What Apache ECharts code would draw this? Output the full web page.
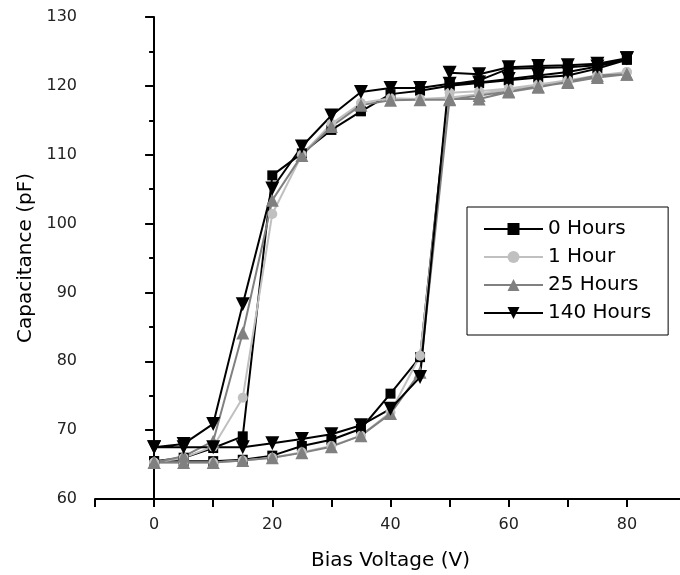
<!DOCTYPE html>
<html>
<head>
<meta charset="utf-8">
<script src="https://cdn.jsdelivr.net/npm/echarts@6/dist/echarts.min.js"></script>
<style>
  html, body { margin: 0; padding: 0; background: #fff; }
  #chart { width: 680px; height: 575px; }
</style>
</head>
<body>
<div id="chart"></div>
<script>
// bias voltage sweep points (forward 0 -> 80, then back 80 -> 0)
const voltsUp = [0, 5, 10, 15, 20, 25, 30, 35, 40, 45, 50, 55, 60, 65, 70, 75, 80];
const voltsDown = [80, 75, 70, 65, 60, 55, 50, 45, 40, 35, 30, 25, 20, 15, 10, 5, 0];

const seriesNames = ['0 Hours', '1 Hour', '25 Hours', '140 Hours'];

// capacitance (pF), forward sweep
const up0h = [65.5, 65.5, 65.5, 65.7, 66.3, 67.7, 68.6, 70.2, 75.3, 80.6, 120.2, 120.8, 122.5, 122.6, 122.7, 123.0, 123.8];
const up1h = [65.3, 65.3, 65.3, 65.6, 66.0, 66.8, 67.7, 69.2, 72.6, 80.8, 119.0, 119.2, 119.6, 120.2, 120.8, 121.5, 122.0];
const up25h = [65.3, 65.3, 65.3, 65.6, 66.0, 66.7, 67.6, 69.2, 72.4, 78.4, 118.1, 118.1, 119.1, 119.8, 120.6, 121.5, 121.7];
const up140h = [67.5, 67.5, 67.5, 67.5, 68.1, 68.7, 69.4, 70.7, 73.1, 77.7, 121.9, 121.7, 122.7, 122.9, 123.0, 123.2, 124.0];

// capacitance (pF), reverse sweep
const down0h = [123.8, 122.5, 121.5, 121.2, 120.8, 120.4, 120.0, 119.3, 118.8, 116.3, 113.6, 110.2, 107.0, 69.1, 67.4, 66.0, 65.5];
const down1h = [122.0, 121.3, 120.6, 120.0, 119.5, 118.8, 118.3, 118.1, 118.2, 117.5, 114.5, 110.0, 101.4, 74.7, 67.6, 66.0, 65.3];
const down25h = [121.7, 121.2, 120.5, 119.9, 119.2, 118.6, 118.0, 118.0, 117.9, 117.2, 114.1, 109.9, 103.4, 84.1, 68.4, 66.2, 65.3];
const down140h = [124.0, 122.8, 122.0, 121.5, 121.0, 120.5, 120.3, 119.7, 119.7, 119.1, 115.7, 111.2, 105.1, 88.3, 70.9, 68.0, 67.5];

const font = 'DejaVu Sans';

function loop(up, down) {
  return voltsUp.map((v, i) => [v, up[i]]).concat(voltsDown.map((v, i) => [v, down[i]]));
}

const looks = [
  { color: '#000000', symbol: 'rect', size: 10, rotate: 0 },
  { color: '#c0c0c0', symbol: 'circle', size: 10, rotate: 0 },
  { color: '#808080', symbol: 'triangle', size: 13, rotate: 0 },
  { color: '#000000', symbol: 'triangle', size: 14, rotate: 180 }
];
const loops = [loop(up0h, down0h), loop(up1h, down1h), loop(up25h, down25h), loop(up140h, down140h)];

const chart = echarts.init(document.getElementById('chart'));

chart.setOption({
  animation: false,
  backgroundColor: '#fff',
  grid: {
    left: 95,
    right: -6,
    top: 17,
    bottom: 76,
    containLabel: false,
    outerBoundsMode: 'none'
  },
  legend: {
    orient: 'vertical',
    left: 467,
    top: 207,
    data: seriesNames,
    itemWidth: 59,
    itemHeight: 15,
    itemGap: 4,
    padding: [10, 17, 10, 16],
    borderColor: '#000',
    borderWidth: 1,
    textStyle: { fontFamily: font, fontSize: 20, color: '#000', lineHeight: 24 }
  },
  xAxis: {
    type: 'value',
    min: -10,
    max: 90,
    interval: 10,
    name: 'Bias Voltage (V)',
    nameLocation: 'middle',
    nameGap: 52,
    nameTextStyle: { fontFamily: font, fontSize: 20, color: '#000' },
    splitLine: { show: false },
    axisLine: { show: true, lineStyle: { color: '#000', width: 2 } },
    axisTick: { show: true, length: 8, lineStyle: { color: '#000', width: 2 } },
    axisLabel: {
      margin: 18,
      fontFamily: font,
      fontSize: 16,
      color: '#222',
      showMaxLabel: false,
      formatter: function (v) {
        return (v >= 0 && v % 20 === 0 && v <= 80) ? String(v) : '';
      }
    }
  },
  yAxis: {
    type: 'value',
    min: 60,
    max: 130,
    interval: 10,
    name: 'Capacitance (pF)',
    nameLocation: 'middle',
    nameGap: 58,
    nameTextStyle: { fontFamily: font, fontSize: 20, color: '#000' },
    splitLine: { show: false },
    axisLine: { show: true, lineStyle: { color: '#000', width: 2 } },
    axisTick: { show: true, length: 9, lineStyle: { color: '#000', width: 2 } },
    minorTick: { show: true, splitNumber: 2, length: 5, lineStyle: { color: '#000', width: 2 } },
    axisLabel: { margin: 18, fontFamily: font, fontSize: 16, color: '#222' }
  },
  series: seriesNames.map((name, i) => ({
    name: name,
    type: 'line',
    data: loops[i],
    symbol: looks[i].symbol,
    symbolSize: looks[i].size,
    symbolRotate: looks[i].rotate,
    showAllSymbol: true,
    lineStyle: { color: looks[i].color, width: 2 },
    itemStyle: { color: looks[i].color },
    emphasis: { disabled: true }
  }))
});
</script>
</body>
</html>
